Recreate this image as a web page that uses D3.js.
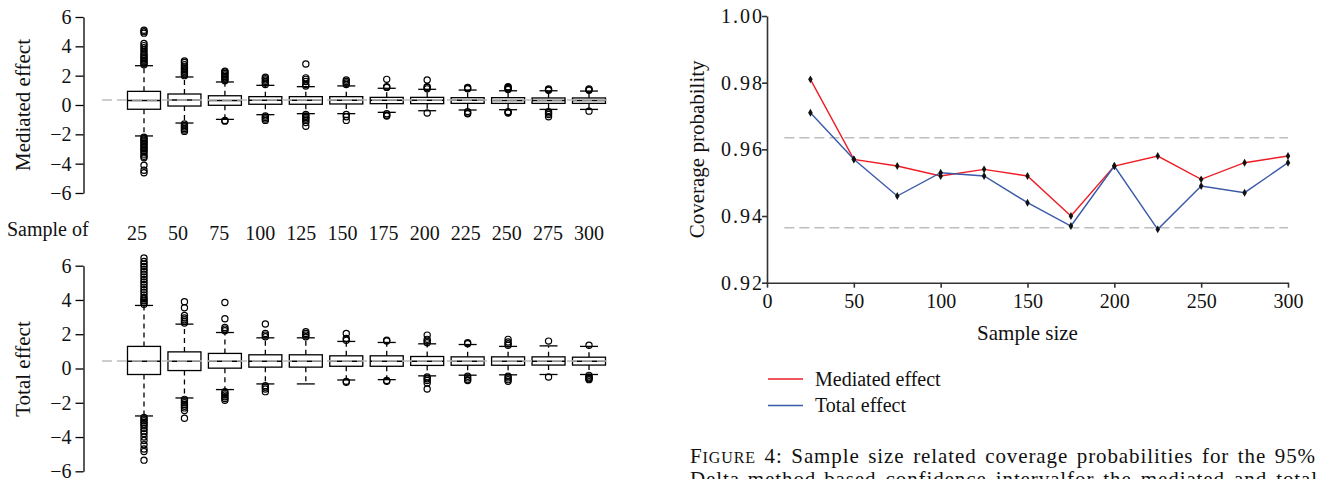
<!DOCTYPE html>
<html><head><meta charset="utf-8">
<script src="https://cdn.jsdelivr.net/npm/d3@7"></script>
<style>
body{margin:0;background:#fff;}
svg{display:block;}
svg text{font-family:"Liberation Serif","Times New Roman",serif;}
</style></head><body>
<svg id="c" width="1318" height="479" font-family="Liberation Serif"></svg>
<script>
// ---------- data ----------
const sampleSizes = [25,50,75,100,125,150,175,200,225,250,275,300];
const boxTicks = [-6,-4,-2,0,2,4,6];

const medTrue = 0.34;
const medLow  = [-2.11,-1.23,-0.98,-0.66,-0.59,-0.59,-0.50,-0.39,-0.34,-0.32,-0.30,-0.30];
const medQ1   = [-0.29,-0.07,-0.02, 0.05, 0.05, 0.07, 0.09, 0.09, 0.11, 0.11, 0.11, 0.11];
const medMed  = [ 0.31, 0.34, 0.31, 0.32, 0.32, 0.32, 0.32, 0.32, 0.32, 0.31, 0.30, 0.30];
const medQ3   = [ 0.93, 0.75, 0.63, 0.57, 0.57, 0.57, 0.52, 0.52, 0.50, 0.50, 0.48, 0.48];
const medHigh = [ 2.68, 1.91, 1.57, 1.34, 1.25, 1.30, 1.14, 1.07, 1.02, 0.97, 0.97, 0.95];
const medOutliers = [
  [2.75,2.85,2.95,3.05,3.15,3.25,3.35,3.45,3.6,3.75,3.9,4.05,4.2,4.9,5.0,5.1,
   -2.2,-2.3,-2.4,-2.5,-2.6,-2.7,-2.8,-2.9,-3.0,-3.1,-3.2,-3.35,-3.5,-3.6,-4.1,-4.45,-4.62],
  [2.0,2.1,2.2,2.3,2.4,2.5,2.6,2.75,2.9,3.0,-1.3,-1.4,-1.5,-1.6,-1.7,-1.8],
  [1.65,1.75,1.85,1.95,2.05,2.15,2.25,2.3,-1.05,-1.1],
  [1.4,1.5,1.6,1.7,1.8,1.9,-0.75,-0.85,-0.95,-1.05],
  [1.3,1.4,1.6,1.75,1.85,2.8,-0.65,-0.75,-0.85,-0.95,-1.05,-1.2,-1.45],
  [1.4,1.5,1.6,1.7,-0.65,-0.8,-1.05],
  [1.2,1.25,1.75,-0.6,-0.7,-0.75],
  [1.1,1.2,1.25,1.7,-0.55],
  [1.1,1.15,1.2,-0.45,-0.55,-0.6],
  [1.05,1.1,1.15,1.2,1.25,-0.45,-0.5,-0.55],
  [1.0,1.05,1.1,-0.45,-0.55,-0.65,-0.8],
  [1.0,1.05,1.1,-0.42]
];

const totTrue = 0.44;
const totLow  = [-2.77,-1.72,-1.23,-0.90,-0.90,-0.67,-0.65,-0.43,-0.39,-0.37,-0.35,-0.35];
const totQ1   = [-0.35,-0.12, 0.02, 0.08, 0.08, 0.13, 0.13, 0.18, 0.19, 0.19, 0.20, 0.20];
const totMed  = [ 0.42, 0.42, 0.42, 0.42, 0.42, 0.42, 0.42, 0.42, 0.42, 0.42, 0.42, 0.42];
const totQ3   = [ 1.29, 0.97, 0.88, 0.80, 0.80, 0.74, 0.74, 0.70, 0.68, 0.68, 0.68, 0.66];
const totHigh = [ 3.68, 2.59, 2.10, 1.79, 1.79, 1.58, 1.52, 1.44, 1.40, 1.29, 1.32, 1.29];
const totOutliers = [
  [3.75,3.85,3.95,4.05,4.15,4.3,4.45,4.6,4.75,4.9,5.05,5.2,5.35,5.5,5.65,5.8,5.95,6.1,6.25,6.45,
   -2.85,-2.95,-3.05,-3.15,-3.25,-3.35,-3.5,-3.65,-3.8,-4.0,-4.2,-4.45,-4.7,-4.85,-5.35],
  [2.65,2.75,2.85,2.95,3.1,3.55,3.9,-1.8,-1.9,-2.0,-2.1,-2.2,-2.3,-2.45,-2.9],
  [2.2,2.3,2.4,2.9,3.85,-1.35,-1.45,-1.55,-1.65,-1.75,-1.85],
  [1.85,1.95,2.05,2.6,-1.0,-1.1,-1.2,-1.35],
  [1.85,1.95,2.05,2.15],
  [1.65,1.75,2.05,-0.75,-0.8],
  [1.6,1.65,-0.7,-0.75],
  [1.5,1.6,1.7,1.95,-0.5,-0.6,-0.7,-0.85,-1.2],
  [1.45,1.5,-0.45,-0.55,-0.65,-0.7],
  [1.35,1.45,1.55,1.7,-0.45,-0.55,-0.65,-0.75],
  [1.6,-0.5],
  [1.36,-0.4,-0.5,-0.55,-0.6,-0.65]
];

const covX = [25,50,75,100,125,150,175,200,225,250,275,300];
const covMediated = [0.981,0.957,0.955,0.952,0.954,0.952,0.940,0.955,0.958,0.951,0.956,0.958];
const covTotal    = [0.971,0.957,0.946,0.953,0.952,0.944,0.937,0.955,0.936,0.949,0.947,0.956];
const covBounds = [0.9635,0.9365];
const covYTicks = [0.92,0.94,0.96,0.98,1.00];
const covXTicks = [0,50,100,150,200,250,300];
const seriesNames = ["Mediated effect","Total effect"];
const seriesColors = ["#ee1d25","#3a59a8"];

const captionLine1 = ["FIGURE","4:","Sample","size","related","coverage","probabilities","for","the","95%"];
const captionLine2 = ["Delta-method-based","confidence","intervalfor","the","mediated","and","total"];

// ---------- drawing ----------
const svg = d3.select("#c");
const FONT = 20;
const SERIF = "Liberation Serif";

const xBox = d3.scalePoint().domain(sampleSizes).range([144, 589]);
const xLab = d3.scalePoint().domain(sampleSizes).range([137, 589]);
const boxW = 33;

function styleAxis(a, color, w) {
  a.attr("font-family", SERIF).attr("font-size", FONT);
  a.select(".domain").attr("stroke", color).attr("stroke-width", w);
  a.selectAll(".tick line").attr("stroke", color).attr("stroke-width", w);
  a.selectAll(".tick text").attr("font-family", SERIF).style("font-family", "Liberation Serif, serif")
    .style("font-size", FONT + "px").attr("fill", "#111");
}

function boxPanel(yRange, low, q1, med, q3, high, outs, trueVal, label, labelY) {
  const y = d3.scaleLinear().domain([-6, 6]).range(yRange);
  const g = svg.append("g");
  const ax = g.append("g").attr("transform", "translate(83.5,0)")
    .call(d3.axisLeft(y).tickValues(boxTicks).tickSize(8).tickSizeOuter(0).tickPadding(4));
  styleAxis(ax, "#000", 1.3);

  svg.append("text").attr("transform", `translate(30,${labelY}) rotate(-90)`)
    .attr("text-anchor", "middle").style("font-size", "21px").attr("fill", "#111").text(label);

  const bg = g.append("g");
  d3.range(sampleSizes.length).forEach(i => {
    const cx = xBox(sampleSizes[i]);
    const cap = 18;
    bg.append("line").attr("x1", cx).attr("x2", cx).attr("y1", y(q3[i])).attr("y2", y(high[i]))
      .attr("stroke", "#000").attr("stroke-width", 1.3).attr("stroke-dasharray", "5,4");
    bg.append("line").attr("x1", cx).attr("x2", cx).attr("y1", y(q1[i])).attr("y2", y(low[i]))
      .attr("stroke", "#000").attr("stroke-width", 1.3).attr("stroke-dasharray", "5,4");
    bg.append("line").attr("x1", cx - cap/2).attr("x2", cx + cap/2).attr("y1", y(high[i])).attr("y2", y(high[i]))
      .attr("stroke", "#000").attr("stroke-width", 1.3);
    bg.append("line").attr("x1", cx - cap/2).attr("x2", cx + cap/2).attr("y1", y(low[i])).attr("y2", y(low[i]))
      .attr("stroke", "#000").attr("stroke-width", 1.3);
    bg.append("rect").attr("x", cx - boxW/2).attr("width", boxW)
      .attr("y", y(q3[i])).attr("height", y(q1[i]) - y(q3[i]))
      .attr("fill", "#fff").attr("stroke", "#000").attr("stroke-width", 1.3);
    bg.append("line").attr("x1", cx - boxW/2).attr("x2", cx + boxW/2).attr("y1", y(med[i])).attr("y2", y(med[i]))
      .attr("stroke", "#000").attr("stroke-width", 1.5);
    bg.selectAll(null).data(outs[i]).join("circle")
      .attr("cx", cx).attr("cy", d => y(d)).attr("r", 3.1)
      .attr("fill", "none").attr("stroke", "#000").attr("stroke-width", 1.2);
  });
  g.append("line").attr("x1", 102).attr("x2", 607).attr("y1", y(trueVal)).attr("y2", y(trueVal))
    .attr("stroke", "#bdbdbd").attr("stroke-width", 1.4).attr("stroke-dasharray", "10,5");
  return y;
}

boxPanel([193, 17], medLow, medQ1, medMed, medQ3, medHigh, medOutliers, medTrue, "Mediated effect", 105);
boxPanel([471.3, 265.7], totLow, totQ1, totMed, totQ3, totHigh, totOutliers, totTrue, "Total effect", 369);

svg.append("text").attr("x", 7).attr("y", 236).style("font-size", FONT + "px").attr("fill", "#111").text("Sample of");
svg.append("g").selectAll("text").data(sampleSizes).join("text")
  .attr("x", d => xLab(d)).attr("y", 240).attr("text-anchor", "middle")
  .style("font-size", FONT + "px").attr("fill", "#111").text(d => d);

// ---------- coverage chart ----------
const cx = d3.scaleLinear().domain([0, 300]).range([767, 1288]);
const cy = d3.scaleLinear().domain([0.92, 1.00]).range([282.7, 16]);

const gc = svg.append("g");
const ay = gc.append("g").attr("transform", "translate(767,0)")
  .call(d3.axisLeft(cy).tickValues(covYTicks).tickFormat(d3.format(".2f")).tickSize(5).tickSizeOuter(0).tickPadding(-2));
const axb = gc.append("g").attr("transform", "translate(0,282.7)")
  .call(d3.axisBottom(cx).tickValues(covXTicks).tickSize(5).tickSizeOuter(0).tickPadding(6));
styleAxis(ay, "#333", 1.6);
styleAxis(axb, "#333", 1.6);
ay.selectAll(".tick text").style("letter-spacing", "2px");

gc.selectAll(".bound").data(covBounds).join("line").attr("class", "bound")
  .attr("x1", cx(10)).attr("x2", cx(300)).attr("y1", d => cy(d)).attr("y2", d => cy(d))
  .attr("stroke", "#bdbdbd").attr("stroke-width", 1.4).attr("stroke-dasharray", "10,5");

const line = d3.line().x((d, i) => cx(covX[i])).y(d => cy(d));
[covMediated, covTotal].forEach((s, k) => {
  gc.append("path").datum(s).attr("d", line).attr("fill", "none")
    .attr("stroke", seriesColors[k]).attr("stroke-width", 1.4);
});
[covMediated, covTotal].forEach(s => {
  gc.selectAll(null).data(s).join("path")
    .attr("transform", (d, i) => `translate(${cx(covX[i])},${cy(d)})`)
    .attr("d", d3.symbol(d3.symbolDiamond, 18)).attr("fill", "#111");
});

svg.append("text").attr("transform", `translate(704,${(cy(0.92)+cy(1.0))/2}) rotate(-90)`)
  .attr("text-anchor", "middle").style("font-size", "21px").attr("fill", "#111").text("Coverage probability");
svg.append("text").attr("x", (cx(0)+cx(300))/2).attr("y", 340).attr("text-anchor", "middle")
  .style("font-size", "21px").attr("fill", "#111").text("Sample size");

// legend
const lg = svg.append("g");
seriesNames.forEach((n, k) => {
  const yy = 379 + k * 26.5;
  lg.append("line").attr("x1", 768).attr("x2", 803).attr("y1", yy).attr("y2", yy)
    .attr("stroke", seriesColors[k]).attr("stroke-width", 1.4);
  lg.append("text").attr("x", 815).attr("y", yy).attr("dy", "0.33em").style("font-size", FONT + "px")
    .attr("fill", "#111").text(n);
});

// caption (justified)
function justify(words, x0, x1, yb) {
  const g = svg.append("g");
  const nodes = words.map(w => {
    const t = g.append("text").attr("y", yb).style("font-size", "21px")
      .style("letter-spacing", "0.9px").attr("fill", "#111");
    if (w === "FIGURE") {
      t.append("tspan").text("F");
      t.append("tspan").style("font-size", "16px").text("IGURE");
    } else t.text(w);
    return t;
  });
  const widths = nodes.map(t => t.node().getComputedTextLength());
  const gap = (x1 - x0 - d3.sum(widths)) / (words.length - 1);
  let x = x0;
  nodes.forEach((t, i) => { t.attr("x", x); x += widths[i] + gap; });
}
justify(captionLine1, 690, 1316, 463);
justify(captionLine2, 690, 1318, 486);
</script>
</body></html>
